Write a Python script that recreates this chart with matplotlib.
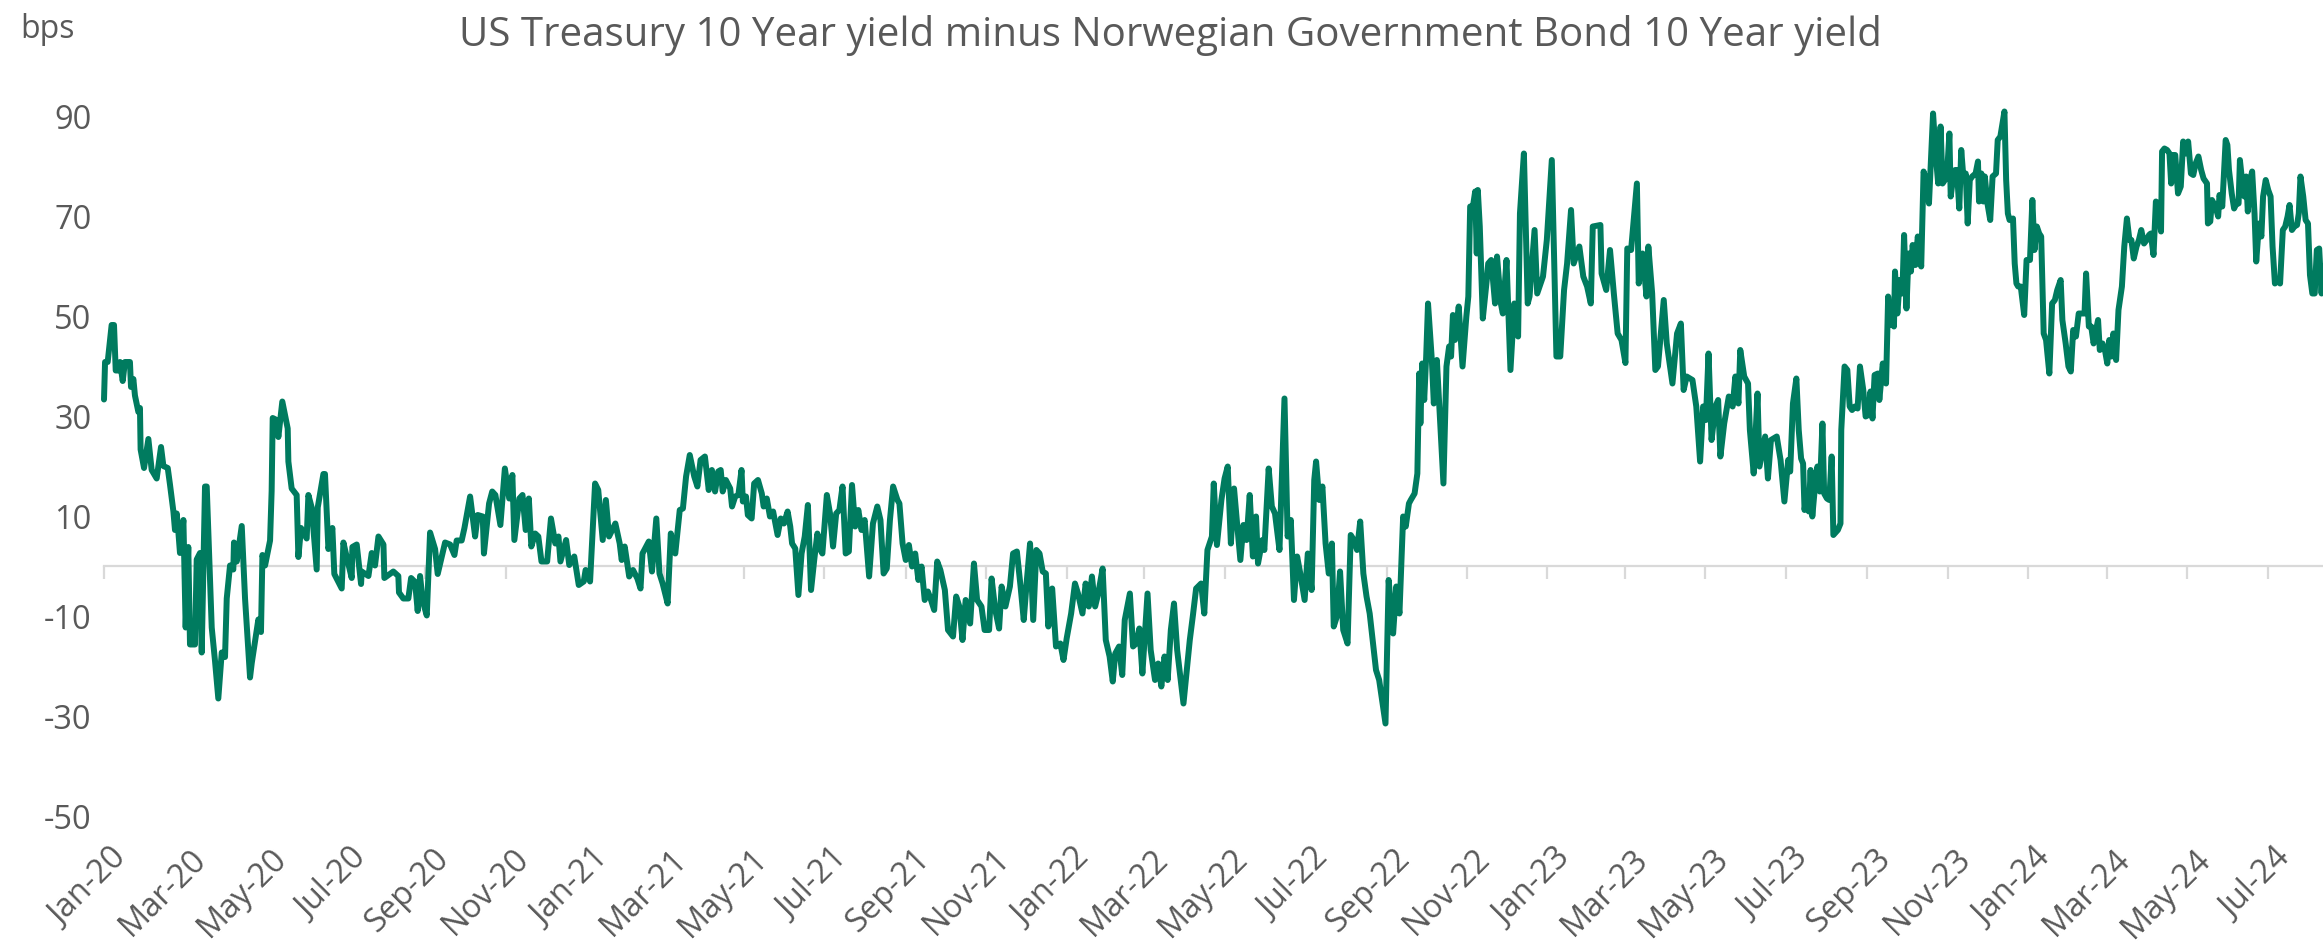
import numpy as np
import pandas as pd
import matplotlib
matplotlib.use('Agg')
import matplotlib.pyplot as plt
import matplotlib.dates as mdates
from matplotlib.transforms import ScaledTranslation

START = '2020-01-01'

days_since_start = [
    0, 0.8, 2.8, 5.8, 7.6, 8.9, 10.9, 12.2, 14.2, 15.9, 19.7, 20.5, 22.3, 23.5, 26.1, 27.3, 27.8, 30.4,
    33.7, 36.2, 40, 43.3, 45.1, 48.4, 50.1, 52.7, 53.9, 55.2, 56.5, 57.7, 60.3, 62, 64, 65.3, 69.1, 70.4,
    72.9, 74.2, 76.7, 78, 81.8, 84.3, 86.8, 89.4, 91.9, 93.2, 95.7, 98.2, 98.7, 100.8, 104.6, 107.1, 110.9,
    112.2, 117.2, 119.2, 120.3, 122.3, 126.1, 127.3, 128.1, 131.1, 132.4, 135.4, 139.5, 140, 142.5, 146.3,
    147.6, 149.6, 153.9, 155.2, 157.7, 161.5, 162.3, 166.6, 167.8, 170.4, 173.4, 174.9, 180.5, 181.8, 184.3,
    188.1, 188.6, 191.9, 195.2, 195.7, 200.8, 203.3, 205.8, 208.4, 212.2, 212.9, 219.7, 223.5, 224, 227.3,
    231.1, 233.2, 236.2, 238.2, 240, 242, 245.1, 247.6, 251.4, 253.4, 259, 262.8, 266.1, 267.8, 271.6, 273.7,
    278, 281.8, 283.8, 287.6, 288.5, 292.4, 294.8, 297.2, 301, 304.4, 307.7, 310.1, 311.6, 315.4, 317.8,
    320.2, 322.6, 324.5, 327.4, 329.8, 332.2, 336.5, 339.4, 342.7, 345.1, 346.6, 350.9, 353.3, 357.1, 360.5,
    364.3, 365.7, 369.1, 372.9, 375.3, 378.7, 381.1, 383.5, 388.3, 391.6, 393.1, 395.4, 398.8, 401.7, 405,
    407.4, 408.9, 413.7, 416.1, 419.4, 421.8, 424.2, 428, 430.4, 433.8, 437.2, 439.6, 442, 444.8, 448.2,
    450.6, 453, 456.3, 459.2, 461.6, 464, 466.4, 468.3, 469.8, 472.2, 475.5, 476.9, 479.3, 481.7, 484.1,
    485.1, 487.5, 488.9, 491.8, 493.7, 496.6, 499.5, 500.9, 503.3, 505.7, 508.1, 511.5, 513.9, 516.3, 519.1,
    521.1, 522.5, 524.9, 527.3, 529.7, 532.1, 534.5, 536.9, 539.3, 541.7, 544.1, 545.5, 548.9, 551.3, 553.6,
    556, 558.4, 560.8, 563.2, 565.6, 568, 570.4, 572.8, 575.2, 577.6, 581, 583.9, 587.2, 589.6, 592, 594.4,
    596.8, 599.2, 602.5, 604, 606.4, 608.8, 611.2, 613.6, 616, 618.4, 620.8, 623.2, 625.6, 628, 630.4, 632.7,
    635.1, 638.5, 640.9, 644.7, 647.1, 649.5, 651.9, 654.3, 657.7, 660.6, 663, 666.3, 668.7, 672.1, 674,
    676.8, 679.7, 681.6, 684.5, 687.9, 690.3, 693.2, 696, 698.4, 700.8, 703.2, 705.6, 708, 710.4, 712.8,
    715.2, 717.1, 720, 722.9, 726.2, 728.6, 731, 734.4, 737.3, 739.6, 743, 745.4, 747.8, 750.2, 752.6, 755,
    758.3, 760.7, 763.6, 766, 767.9, 770.8, 773.2, 775.1, 779, 781.4, 783.8, 786.2, 788.5, 792.4, 794.8,
    798.1, 800.5, 802.9, 805.3, 807.7, 810.1, 812.5, 814.9, 819.7, 824.5, 826.9, 829.3, 833.1, 835.5, 837.9,
    841.3, 842.7, 845.1, 848.5, 850.9, 853.3, 855.7, 858.1, 860.5, 862.9, 865.2, 867.6, 870, 872.4, 874.8,
    876.3, 879.6, 881.1, 884.4, 886.8, 889.2, 892.6, 896.4, 898.8, 901.2, 903.6, 906, 908.4, 911.7, 914.1,
    917, 919, 920.4, 922.8, 925.2, 927.6, 930, 932.4, 933.8, 936.2, 938.6, 941, 944.3, 946.7, 949.1, 951.5,
    953.9, 956.3, 958.7, 961.1, 965.9, 968.3, 973.1, 975.5, 978.9, 981.3, 983.7, 986.5, 988.5, 990.9, 992.3,
    995.2,
    997.3, 998.7, 999.6, 1001, 1002.5, 1004, 1005.4, 1008.3, 1009.8, 1012.1, 1017.1, 1019.4, 1021.4, 1022.9,
    1024.3, 1025.8, 1028.7, 1031.6, 1034.5, 1036, 1037.4, 1039.5, 1041.2, 1042.4, 1043.2, 1044.7, 1047, 1050,
    1051.1, 1053.4, 1056.3, 1057.8, 1060.7, 1062.2, 1065, 1068, 1070.9, 1073.8, 1075.2, 1078.2, 1081.1,
    1082.5, 1086.3, 1088.3, 1092.7, 1095.6, 1099.4, 1102.9, 1105.8, 1108.7, 1111, 1114, 1116, 1120.3, 1123.3,
    1126.2, 1129, 1130.5, 1136.3, 1137.2, 1140.7, 1143.6, 1146.5, 1149.4, 1152.3, 1155.3, 1156.7, 1159.6,
    1164, 1165.4, 1168.3, 1171.3, 1172.7, 1175.6, 1178, 1180, 1184.4, 1186.7, 1191, 1194.5, 1197.4, 1199.5,
    1201.8, 1206.2, 1209.1, 1212, 1214.3, 1216.4, 1218.4, 1220.7, 1223.6, 1225.7, 1227.4, 1230.3, 1233.8,
    1236.7, 1238.8, 1241.1, 1242.5, 1245.5, 1248.4, 1249.8, 1252.7, 1255.6, 1257.1, 1261.4, 1263.5, 1265.8,
    1270.2, 1273.1, 1276, 1278.9,
    1280.4, 1282.5, 1285.1, 1286.9, 1288.7, 1290.2, 1291.3, 1292.8, 1294.6, 1295.9, 1297.2, 1299, 1301.1,
    1302.9, 1304.9, 1306.2, 1308.3, 1310.1, 1311.9, 1313.2, 1316.6, 1318.6, 1319.2, 1321.7, 1323.8, 1325.6,
    1327.4, 1329.5, 1331.6, 1333.4, 1335.9, 1337.7, 1339.8, 1341.4, 1342.9, 1344.5, 1347, 1348.1, 1350.7,
    1353.2, 1354.8, 1356.6, 1357.9, 1359.2, 1360, 1361.8, 1363.6, 1365.6, 1366.9, 1368.7, 1370.3, 1372.1,
    1373.4, 1375.5, 1377.3, 1379.9, 1381.7, 1383.7, 1385.8, 1388.9, 1391, 1392.8, 1394.6, 1396.1, 1397.9,
    1399.7, 1401.3, 1402.3, 1403.9, 1405.7, 1407, 1408.8, 1410.3, 1412.1, 1413.7, 1415.2, 1416.8, 1418.6,
    1421.2, 1423, 1423.8, 1425.6, 1427.1, 1428.2, 1430.2, 1432.3, 1434.1, 1436.7, 1438, 1440, 1443.1, 1444.4,
    1445.7, 1447, 1449.6, 1450.9, 1452.2, 1453.5, 1455.5, 1458.1, 1459.9, 1462.5, 1464.3, 1465.9, 1467.7,
    1469.5, 1471, 1472.9, 1474.7, 1477.2, 1479.3, 1481.4, 1483.2, 1485.8, 1487.1, 1489.6, 1491.7, 1493.5,
    1495.3, 1497.4, 1499.5, 1502, 1503.9, 1505.1, 1507.2, 1509, 1510.8, 1512.9, 1514.2, 1515.5, 1517.6,
    1519.4, 1521.2, 1522.7, 1524.5, 1525.8, 1527.9, 1529.7, 1532.3, 1534.1, 1536.1, 1538, 1539.5, 1541.3,
    1543.4, 1545.2, 1547, 1549.1, 1551.1, 1552.9, 1554.2, 1556.3, 1558.1, 1559.9, 1562, 1562.8, 1564.6,
    1566.6, 1568.4, 1569.7, 1571, 1572.8, 1574.9, 1577, 1578.8, 1580.6, 1582.6, 1584.7, 1586.5, 1588.3,
    1590.4, 1592.5, 1594.3, 1596.9, 1597.6, 1599.4, 1600.7, 1603.3, 1605.4, 1606.4, 1608.5, 1611.1, 1612.4,
    1613.6, 1615.7, 1617.5, 1619.3, 1620.9, 1621.9, 1623.5, 1625.3, 1626.6, 1627.9, 1629.7, 1631.2, 1633,
    1634.3, 1636.4, 1638.2, 1639.5, 1641.5, 1643.4, 1645.2, 1646.7, 1648.5, 1650.3, 1652.4, 1654.5, 1656.3,
    1658.1, 1659.6, 1661.4, 1663.3, 1665.3, 1666.6, 1667.9, 1670, 1671.8, 1673.6, 1675.1, 1676.9, 1678.7,
    1680.3, 1682.1, 1683.9, 1685,
]

spread_bps = [
    33.3, 40.8, 40.8, 48.2, 48.2, 39.1, 39.1, 40.8, 37.0, 40.8, 40.8, 35.8, 37.4, 34.1, 30.8, 31.6, 23.3, 19.6,
    25.4, 19.2, 17.5, 23.8, 20.0, 19.6, 16.3, 10.9, 7.2, 10.5, 6.7, 2.6, 9.2, -12.3, 3.8, -15.7, -15.7, 1.3,
    2.6, -17.3, 15.9, 15.9, -12.3, -19.0, -26.5, -17.3, -18.2, -6.5, 0.1, -0.7, 4.7, 0.9, 8.0, -6.5, -22.3,
    -19.4, -10.7, -13.2, 2.2, 0.1, 5.1, 15.0, 29.6, 29.2, 25.8, 32.9, 27.5, 20.9, 15.5, 14.2,
    1.8, 7.6, 5.5, 14.2, 11.7, -0.7, 11.7, 18.4, 18.4, 3.4, 7.6, -1.6, -4.5, 4.7, 1.8,
    -2.4, 3.8, 4.3, -3.6, -1.1, -2.0, 2.6, 0.1, 5.9, 4.3, -2.4, -1.1, -2.0, -5.3, -6.5,
    -6.5, -2.4, -3.2, -9.0, -2.0, -7.0, -9.9, 6.7, 3.4, -1.6, 4.7, 4.3, 2.2, 5.1, 5.1, 7.6,
    13.9, 5.9, 10.2, 9.9, 2.5, 12.5, 14.9, 14.2, 8.2, 19.5, 13.5, 18.2, 5.2, 13.5, 14.2,
    7.2, 13.5, 3.9, 6.5, 5.9, 0.9, 0.9, 9.5, 4.5, 5.9, 0.9, 5.2, 0.2, 1.9, -3.8,
    -3.1, -0.8, -3.1, 16.5, 15.2, 5.2, 13.2, 5.9, 8.5, 4.5, 1.2, 3.9, -2.1, -0.8, -2.5,
    -4.5, 2.5, 4.9, -1.1, 9.5, -1.5, -3.5, -7.5, 6.5, 2.5, 11.2, 11.5, 17.9, 22.2, 17.9,
    15.9, 21.2, 21.9, 15.2, 19.2, 14.9, 18.9, 19.2, 14.9, 17.2, 15.5, 11.9, 13.9, 14.2, 19.2,
    12.9, 13.9, 10.2, 9.5, 16.5, 17.2, 14.5, 11.9, 13.5, 9.9, 10.9, 6.2, 9.5, 8.5, 10.9,
    7.9, 4.5, 3.5, -5.8, 2.5, 5.9, 12.2, -4.8, 1.2, 6.5, 3.2, 2.5, 14.2, 10.5, 3.9,
    10.5, 11.2, 15.9, 2.5, 2.9, 16.2, 7.9, 11.2, 7.2, 9.2, -2.1, 8.5, 11.9, 9.2, -1.5, -0.5,
    9.2, 15.9, 13.2, 12.5, 4.5, 1.2, 4.2, -0.1, 2.5, -2.8, -0.1, -6.8, -5.1, -6.8, -8.8, 0.9,
    -0.8, -4.8, -12.8, -14.1, -6.1, -8.1, -14.8, -6.8, -11.5, 0.5, -6.8, -8.1, -12.8, -12.8, -2.5,
    -8.8, -12.5, -4.1, -8.1, -4.1, 2.5, 2.9, -4.1, -10.8, -2.8, 4.5, -10.8, 3.2, 2.5, -1.1,
    -1.5, -12.1, -4.5, -16.1, -15.5, -18.8, -14.5, -9.5, -3.5, -5.5, -9.5, -3.5, -8.1, -2.1, -8.1, -5.5,
    -0.5, -14.8, -18.1, -23.1, -17.5, -16.1, -21.8, -10.8, -5.5, -16.1, -15.5, -12.5, -21.5, -5.5, -16.8,
    -22.8, -19.5, -24.1, -18.1, -22.8, -12.8, -7.5, -16.8, -27.5, -14.8, -9.8, -4.5, -3.5, -9.5, 3.2,
    5.9, 16.5, 4.2, 13.2, 17.5, 19.9, 4.5, 15.5, 8.2, 1.2, 8.2, 5.2, 14.2, 1.9, 9.9,
    0.5, 5.2, 3.2, 19.5, 11.9, 10.5, 3.2, 33.5, 5.9, 9.2, -6.8, 1.9, -1.5, -6.8, 2.5,
    -4.8, 17.2, 20.9, 13.2, 15.9, 4.5, -1.5, 4.5, -12.1, -10.1, -1.1, -12.8, -15.5, 6.2, 5.2, 3.2,
    8.9, -1.5, -6.1, -9.5, -20.8, -22.8, -31.5, -2.8, -13.5, -4.1, -9.5, 9.9, 7.9, 12.5, 13.2,
    14.5,
    18.5, 38.5, 28.5, 40.5, 33.2, 41.9, 52.5, 41.2, 32.5, 41.2, 16.5, 39.9, 43.9, 41.9,
    50.2, 45.2, 51.9, 39.9, 49.9, 53.9, 71.9, 71.9, 74.9, 62.5, 75.2, 67.9, 49.5, 57.2,
    60.5, 61.2, 52.5, 61.9, 52.5, 50.5, 61.2, 39.2, 52.5, 45.9, 70.5, 82.5, 52.5,
    53.9, 67.2, 54.5, 57.9, 65.2, 81.2, 41.9, 41.9, 55.2, 60.5, 71.2, 60.5, 63.9, 57.9,
    55.9, 52.5, 67.9, 68.2, 58.5, 55.2, 63.2, 54.5, 46.5, 45.2, 40.6, 63.5, 63.2,
    76.5, 56.5, 62.5, 53.9, 63.9, 54.5, 39.2, 39.9, 53.2, 44.5, 36.5, 46.5, 48.5, 35.2,
    37.9, 37.2, 31.9, 20.9, 31.9, 29.2, 42.5, 25.2, 31.9, 33.2, 21.9, 28.5, 33.9,
    31.9, 37.9, 32.5, 43.2, 37.9, 36.5, 27.2, 18.5, 34.5, 19.9, 25.9, 17.5, 25.2,
    25.9, 21.2, 12.9, 21.2,
    18.9, 32.5, 37.5, 27.2, 21.5, 20.5, 11.2, 14.2, 10.9, 19.2, 9.9, 15.2, 19.9,
    14.9, 28.5, 14.5, 13.5, 13.2, 21.9, 6.2, 7.2, 8.5, 27.2, 39.9, 39.2, 31.9,
    31.2, 31.9, 31.5, 39.9, 35.2, 29.9, 30.2, 34.9, 29.5, 38.2, 38.5, 33.2, 40.5,
    36.5, 53.9, 48.2, 52.5, 47.9, 58.9, 50.5, 57.2, 54.5, 66.2, 51.5, 62.5, 58.9,
    64.2, 60.2, 65.9, 59.9, 78.9, 77.2, 72.5, 90.5, 81.9, 76.5, 87.9, 76.5, 77.2,
    79.2, 86.5, 73.9, 77.2, 79.2, 79.2, 71.5, 83.2, 77.2, 78.5, 68.5, 77.2, 77.9,
    78.5, 80.9, 72.9, 78.5, 72.9, 77.9, 72.5, 69.2, 77.9, 78.5, 85.2, 85.9, 90.9, 77.2,
    70.5, 69.2, 69.5, 60.5, 56.5, 55.9, 55.9, 50.2, 61.2, 61.2, 73.2, 63.2, 67.9,
    66.5, 65.9, 46.5, 45.2, 38.5, 52.5, 53.2, 55.2, 57.2, 49.2, 44.5, 39.9, 38.9,
    47.2, 45.9, 50.5, 50.5, 50.5, 58.5, 47.9, 47.9, 44.5, 47.5, 49.2, 43.2, 44.5,
    43.2, 40.5, 45.2, 41.9, 46.5, 41.2, 51.2, 55.9, 63.9, 69.5, 65.2, 65.2, 61.5,
    63.9, 65.2, 67.2, 64.5, 65.2, 66.2, 66.5, 62.2, 72.9, 72.5, 66.9, 82.9, 83.5,
    83.2, 82.5, 76.5, 82.2, 82.2, 74.5, 75.9, 84.9, 82.5, 84.9, 78.5, 78.2, 80.5,
    81.9, 79.2, 77.5, 76.5, 68.5, 68.9, 73.2, 71.9, 69.9, 74.2, 71.9, 85.2, 84.2,
    79.2, 74.5, 71.5, 72.5, 72.5, 81.2, 77.2, 73.9, 77.9, 70.9, 77.2, 78.9, 70.5,
    60.9, 68.5, 65.9, 73.9, 77.2, 75.2, 73.9, 63.9, 56.5, 57.2, 56.5, 67.2, 67.9,
    69.9, 72.2, 67.2, 67.9, 68.2, 70.5, 77.9, 73.9, 69.2, 68.5, 58.2, 54.5, 54.5,
    63.2, 63.5, 54.5, 59.9,
]

title_text = 'US Treasury 10 Year yield minus Norwegian Government Bond 10 Year yield'
unit_label = 'bps'
y_ticks = [-50, -30, -10, 10, 30, 50, 70, 90]
y_range = (-50, 90)
x_end_days = 1685

dates = pd.Timestamp(START) + pd.to_timedelta(days_since_start, unit='D')

plt.rcParams['font.family'] = ['Open Sans', 'DejaVu Sans']
plt.rcParams['axes.unicode_minus'] = False
TEXT = '#595959'
LINE = '#007B5F'
GRID = '#D9D9D9'

W, H = 2323, 947
fig = plt.figure(figsize=(W / 100, H / 100), dpi=100)
ax = fig.add_axes([104 / W, 131 / H, (W - 104) / W, 700 / H])

ax.plot(dates, spread_bps, color=LINE, lw=4.3, solid_joinstyle='round',
        solid_capstyle='round', clip_on=False, zorder=3)

ax.set_ylim(*y_range)
ax.set_xlim(pd.Timestamp(START), pd.Timestamp(START) + pd.Timedelta(days=x_end_days))
ax.set_yticks(y_ticks)

for s in ['left', 'right', 'top']:
    ax.spines[s].set_visible(False)
ax.spines['bottom'].set_position(('data', 0))
ax.spines['bottom'].set_color(GRID)
ax.spines['bottom'].set_linewidth(1.6)
ax.spines['bottom'].set_zorder(1)

ax.xaxis.set_major_locator(mdates.MonthLocator(bymonth=[1, 3, 5, 7, 9, 11]))
ax.xaxis.set_major_formatter(mdates.DateFormatter('%b-%y'))
ax.tick_params(axis='x', direction='out', length=9, width=1.6, color=GRID,
               labelsize=23.5, labelcolor=TEXT, pad=190)
ax.tick_params(axis='y', length=0, pad=9, labelsize=23.5, labelcolor=TEXT)

offset = ScaledTranslation(7 / 100, 0, fig.dpi_scale_trans)
for lbl in ax.get_xticklabels():
    lbl.set_rotation(45)
    lbl.set_ha('right')
    lbl.set_va('top')
    lbl.set_rotation_mode('anchor')
    lbl.set_transform(lbl.get_transform() + offset)

fig.text(1170 / W, 1 - 35 / H, title_text, ha='center', va='center', fontsize=29, color=TEXT)
fig.text(20 / W, 1 - 30 / H, unit_label, ha='left', va='center', fontsize=23, color=TEXT)

fig.savefig('out.png', dpi=100, facecolor='white')
